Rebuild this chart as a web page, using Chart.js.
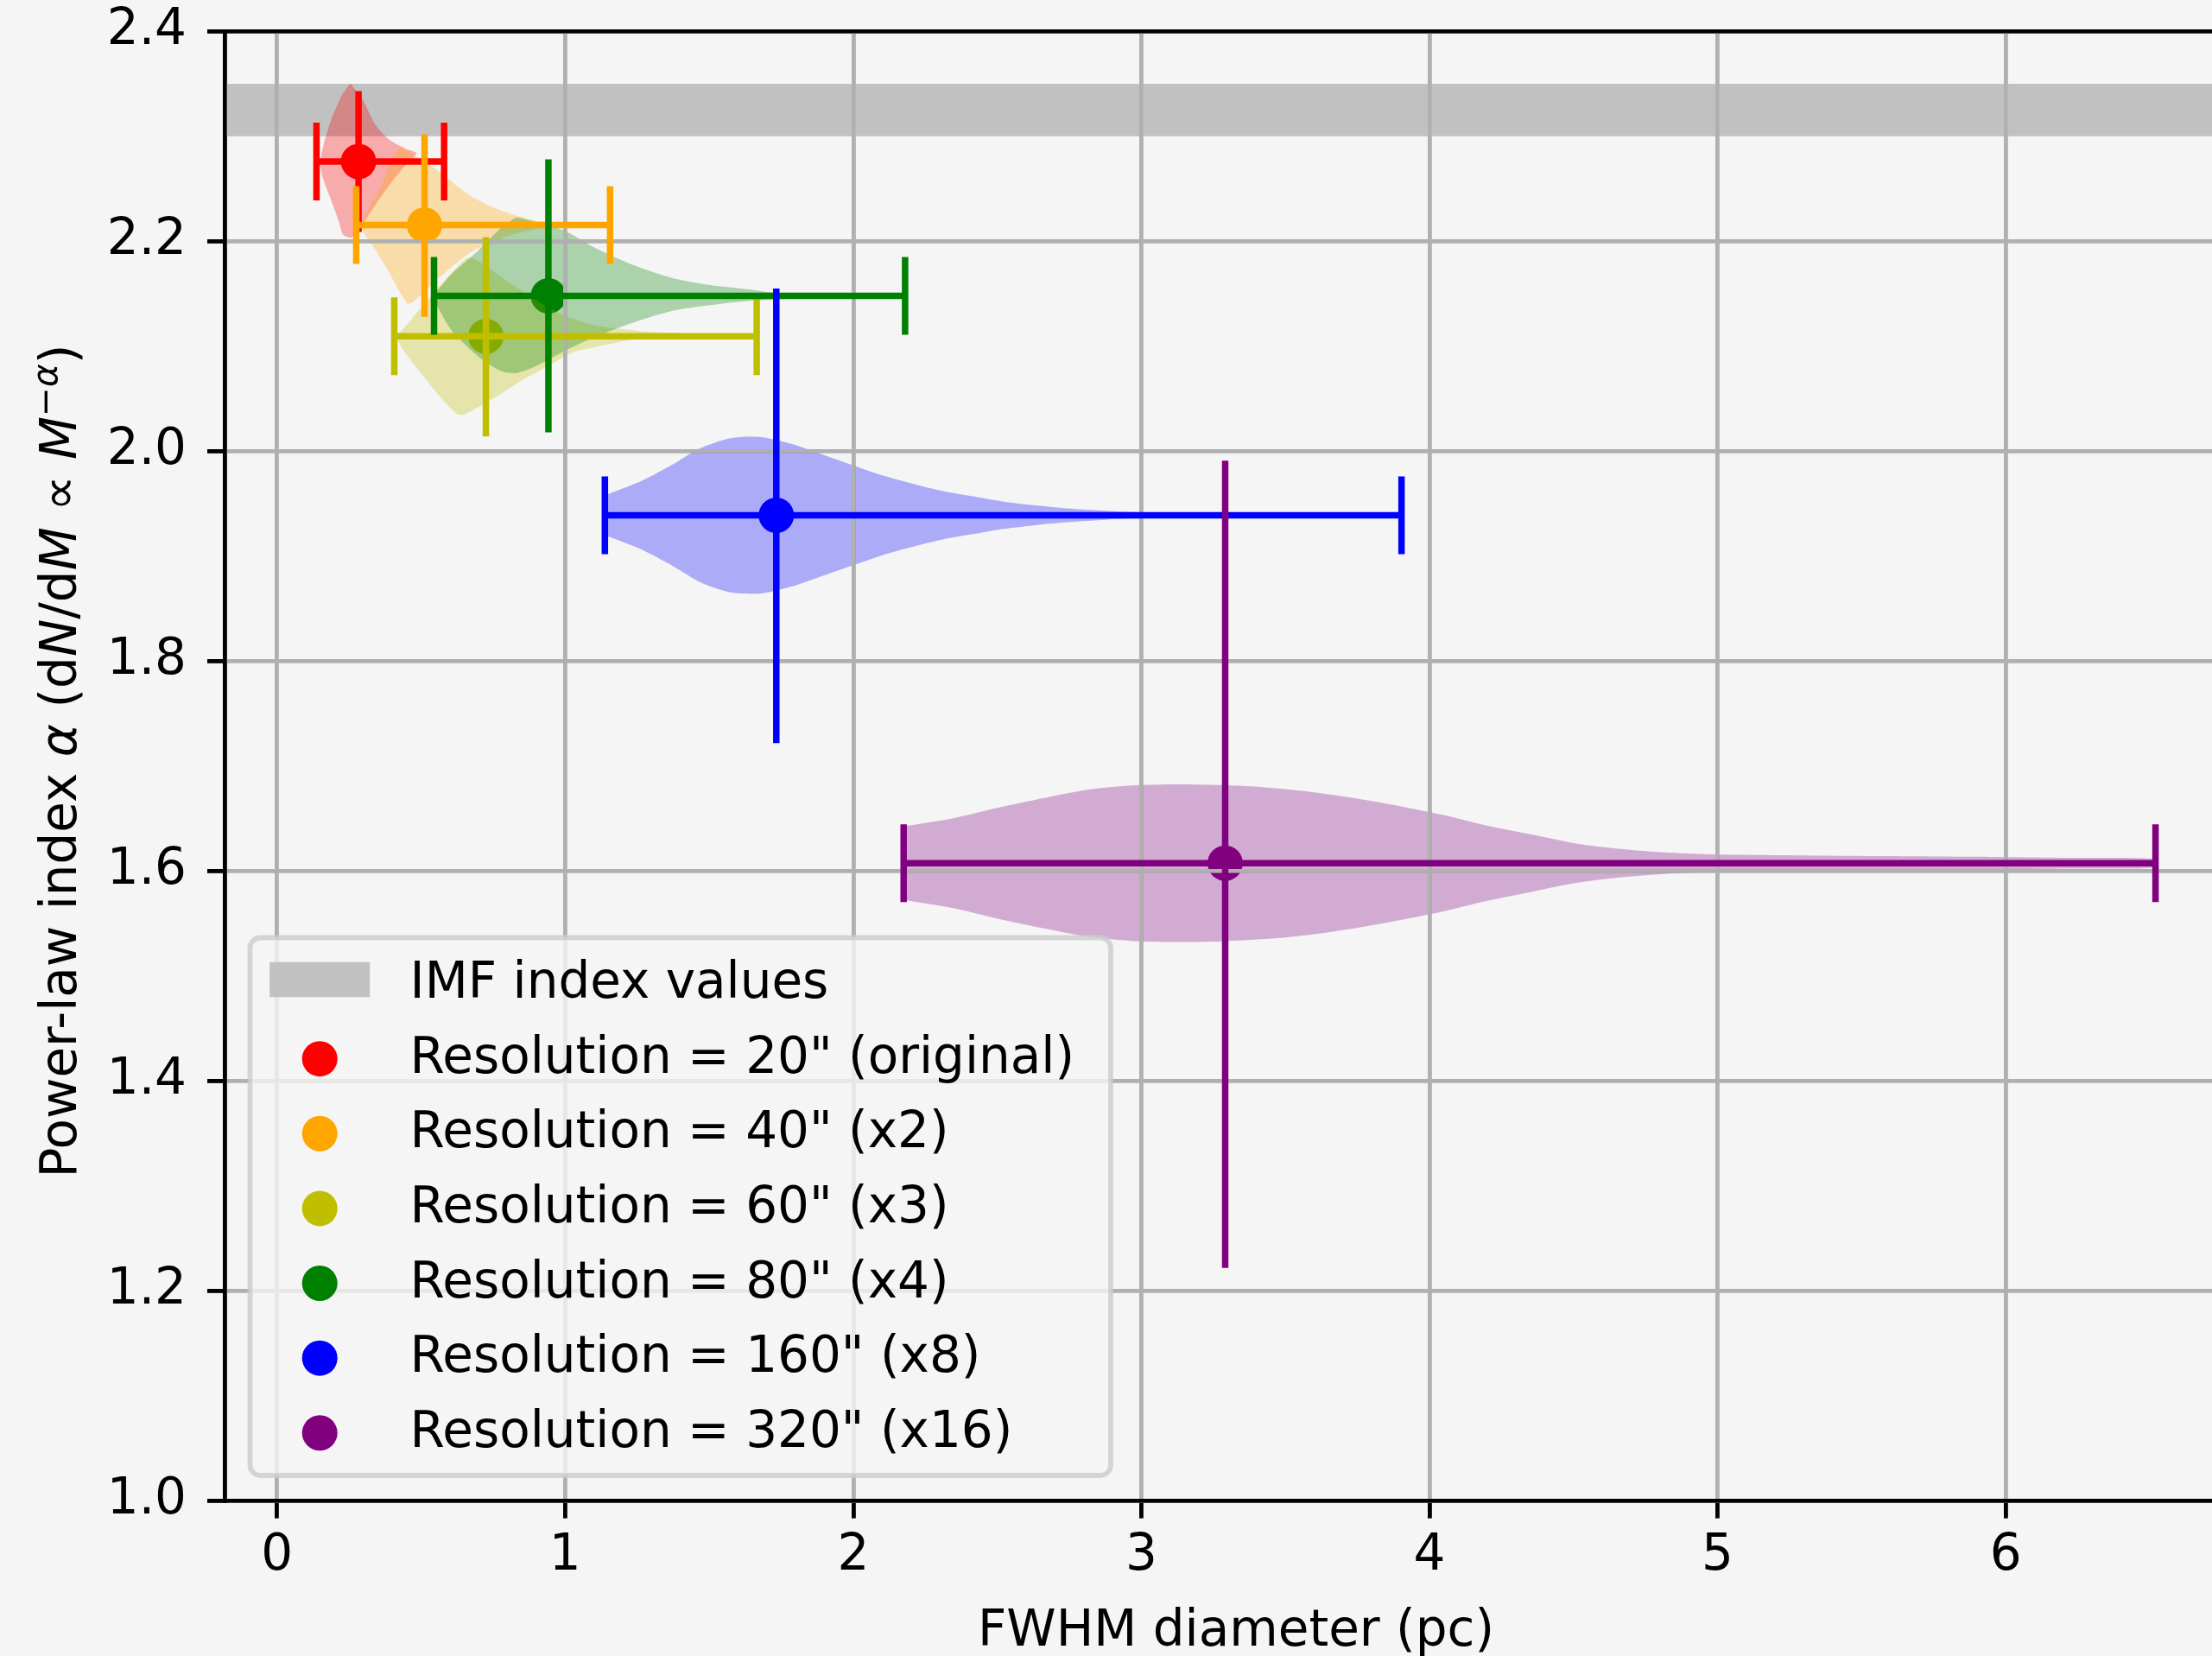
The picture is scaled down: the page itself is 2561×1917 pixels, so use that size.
<!DOCTYPE html>
<html>
<head>
<meta charset="utf-8">
<script src="https://cdn.jsdelivr.net/npm/chart.js@4.4.1/dist/chart.umd.min.js"></script>
<style>
html, body { margin: 0; padding: 0; background: #f5f5f5; overflow: hidden; width: 2561px; height: 1917px; }
canvas { display: block; }
</style>
</head>
<body>
<canvas id="c" width="2602" height="1917"></canvas>
<script>
// ---------------- data ----------------
const seriesLabels = [
  'Resolution = 20" (original)',
  'Resolution = 40" (x2)',
  'Resolution = 60" (x3)',
  'Resolution = 80" (x4)',
  'Resolution = 160" (x8)',
  'Resolution = 320" (x16)'
];
const imfLabel = 'IMF index values';
const imfBand = [2.30, 2.35];

// centre points (FWHM diameter, power-law index)
const centerX = [0.283, 0.512, 0.725, 0.942, 1.733, 3.291];
const centerY = [2.276, 2.2155, 2.1095, 2.148, 1.939, 1.6075];
// error bars
const xErrLow  = [0.137, 0.275, 0.407, 0.545, 1.138, 2.175];
const xErrHigh = [0.580, 1.156, 1.665, 2.180, 3.903, 6.520];
const yErrLow  = [2.209, 2.128, 2.014, 2.018, 1.722, 1.222];
const yErrHigh = [2.343, 2.302, 2.204, 2.278, 2.155, 1.991];

// distribution outlines
const violinRedX = [0.2548, 0.2998, 0.3397, 0.3897, 0.4496, 0.4846, 0.4496, 0.3997, 0.3497, 0.3098, 0.2848, 0.2598, 0.2298, 0.2148, 0.1899, 0.1599, 0.1499, 0.1649, 0.1899, 0.2248];
const violinRedY = [2.3504, 2.3339, 2.3119, 2.2969, 2.2878, 2.2840, 2.2735, 2.2571, 2.2379, 2.2214, 2.2104, 2.2036, 2.2063, 2.2187, 2.2379, 2.2598, 2.2735, 2.2955, 2.3174, 2.3394];

const violinOrangeX = [0.4297, 0.5096, 0.5696, 0.6295, 0.6895, 0.7494, 0.8194, 0.8893, 0.9600, 0.9000, 0.8000, 0.6744, 0.5674, 0.4800, 0.4550, 0.4297, 0.3797, 0.3297, 0.2918, 0.3597, 0.4000];
const violinOrangeY = [2.2900, 2.2763, 2.2653, 2.2516, 2.2406, 2.2324, 2.2255, 2.2200, 2.2170, 2.2120, 2.2050, 2.1899, 2.1665, 2.1440, 2.1405, 2.1501, 2.1748, 2.1967, 2.2146, 2.2516, 2.2800];

const violinYellowX = [0.4135, 0.4737, 0.5674, 0.6610, 0.7000, 0.8000, 0.9000, 1.0000, 1.1000, 1.2500, 1.4000, 1.6513, 1.4000, 1.2365, 1.1000, 1.0227, 0.9421, 0.8350, 0.7413, 0.6477, 0.6209, 0.5674, 0.4871, 0.4336];
const violinYellowY = [2.1089, 2.1281, 2.1583, 2.1844, 2.1810, 2.1620, 2.1440, 2.1290, 2.1200, 2.1150, 2.1125, 2.1103, 2.1085, 2.1062, 2.0990, 2.0938, 2.0815, 2.0650, 2.0486, 2.0349, 2.0362, 2.0513, 2.0787, 2.0979];

const violinGreenX = [0.5473, 0.6076, 0.6878, 0.7681, 0.8216, 0.8350, 0.9956, 1.1026, 1.2365, 1.3703, 1.5041, 1.6379, 1.7450, 1.9500, 1.6379, 1.5041, 1.3703, 1.2365, 1.1026, 0.9956, 0.9019, 0.8350, 0.7815, 0.7012, 0.6076, 0.5540];
const violinGreenY = [2.1501, 2.1693, 2.1885, 2.2104, 2.2214, 2.2228, 2.2104, 2.1940, 2.1775, 2.1652, 2.1583, 2.1542, 2.1505, 2.1485, 2.1432, 2.1391, 2.1336, 2.1226, 2.1089, 2.0952, 2.0815, 2.0746, 2.0760, 2.0897, 2.1144, 2.1391];

const violinBlueX    = [1.138, 1.260, 1.365, 1.470, 1.575, 1.680, 1.786, 1.891, 1.996, 2.101, 2.206, 2.311, 2.416, 2.521, 2.626, 2.731, 2.837, 2.942, 3.200, 3.500, 3.903];
const violinBlueHalf = [0.019, 0.032, 0.047, 0.064, 0.0735, 0.0745, 0.068, 0.058, 0.048, 0.038, 0.030, 0.023, 0.018, 0.013, 0.0096, 0.0068, 0.0049, 0.0033, 0.0022, 0.0015, 0.0010];

const violinPurpleX    = [2.175, 2.351, 2.505, 2.659, 2.813, 2.967, 3.121, 3.275, 3.429, 3.583, 3.738, 3.892, 4.046, 4.200, 4.354, 4.508, 4.662, 4.816, 4.970, 5.279, 5.587, 5.895, 6.203, 6.520];
const violinPurpleHalf = [0.035, 0.043, 0.053, 0.062, 0.070, 0.074, 0.0751, 0.0744, 0.0723, 0.0682, 0.0621, 0.0546, 0.0461, 0.0358, 0.0273, 0.0188, 0.0136, 0.0102, 0.0085, 0.0075, 0.0068, 0.0061, 0.0051, 0.0040];

// axes
const xLimits = [-0.182, 6.839];
const yLimits = [1.0, 2.4];
const xTickValues = [0, 1, 2, 3, 4, 5, 6];
const xTickLabels = ['0', '1', '2', '3', '4', '5', '6'];
const yTickValues = [1.0, 1.2, 1.4, 1.6, 1.8, 2.0, 2.2, 2.4];
const yTickLabels = ['1.0', '1.2', '1.4', '1.6', '1.8', '2.0', '2.2', '2.4'];
const xTitle = 'FWHM diameter (pc)';
const yTitleParts = [
  { t: 'Power-law index ' },
  { t: 'α', it: true },
  { t: ' (d' },
  { t: 'N', it: true },
  { t: '/d' },
  { t: 'M', it: true },
  { t: ' ∝ ' },
  { t: 'M', it: true },
  { t: '−α', it: true, sup: true },
  { t: ')' }
];

// ---------------- styles ----------------
const seriesColors = [[255, 0, 0], [255, 165, 0], [191, 191, 0], [0, 128, 0], [0, 0, 255], [128, 0, 128]];
const bandColor = 'rgb(193,193,193)';
const FONT = '"DejaVu Sans"';
const FS = 58;
const rgba = (c, a) => `rgba(${c[0]},${c[1]},${c[2]},${a})`;

function outlineFromPolygon(xs, ys) { return xs.map((x, i) => ({ x: x, y: ys[i] })); }
function outlineFromProfile(xs, half, y0) {
  const up = xs.map((x, i) => ({ x: x, y: y0 + half[i] }));
  const lo = xs.map((x, i) => ({ x: x, y: y0 - half[i] })).reverse();
  return up.concat(lo);
}
const violinOutlines = [
  outlineFromPolygon(violinRedX, violinRedY),
  outlineFromPolygon(violinOrangeX, violinOrangeY),
  outlineFromPolygon(violinYellowX, violinYellowY),
  outlineFromPolygon(violinGreenX, violinGreenY),
  outlineFromProfile(violinBlueX, violinBlueHalf, centerY[4]),
  outlineFromProfile(violinPurpleX, violinPurpleHalf, centerY[5])
];

const datasets = [];
// IMF band
datasets.push({
  data: [
    { x: xLimits[0] - 1, y: imfBand[0] }, { x: xLimits[1] + 1, y: imfBand[0] },
    { x: xLimits[1] + 1, y: imfBand[1] }, { x: xLimits[0] - 1, y: imfBand[1] }
  ],
  showLine: true, fill: 'shape', backgroundColor: bandColor, borderColor: 'transparent',
  borderWidth: 0, pointRadius: 0, order: 100
});
seriesColors.forEach((c, k) => {
  // centre markers (below the distributions)
  datasets.push({
    data: [{ x: centerX[k], y: centerY[k] }], showLine: false,
    pointRadius: 20.5, pointBorderWidth: 0, pointBackgroundColor: rgba(c, 1),
    pointBorderColor: rgba(c, 1), order: 90
  });
  // distributions
  datasets.push({
    data: violinOutlines[k], showLine: true, fill: 'shape', tension: 0.25,
    backgroundColor: rgba(c, 0.3), borderColor: 'transparent', borderWidth: 0,
    pointRadius: 0, order: 80 - k, gridAfter: k === seriesColors.length - 1
  });
  // error bars
  datasets.push({
    data: [{ x: xErrLow[k], y: centerY[k] }, { x: xErrHigh[k], y: centerY[k] }],
    showLine: true, borderColor: rgba(c, 1), borderWidth: 7.5, pointRadius: 0, order: 60 - k
  });
  datasets.push({
    data: [{ x: centerX[k], y: yErrLow[k] }, { x: centerX[k], y: yErrHigh[k] }],
    showLine: true, borderColor: rgba(c, 1), borderWidth: 7.5, pointRadius: 0, order: 60 - k
  });
  datasets.push({
    data: [{ x: xErrLow[k], y: centerY[k] }, { x: xErrHigh[k], y: centerY[k] }],
    showLine: false, pointStyle: 'line', pointRotation: 90, pointRadius: 45,
    pointBorderWidth: 7.5, pointBorderColor: rgba(c, 1), pointBackgroundColor: rgba(c, 1),
    order: 60 - k
  });
});

// grid drawn again above the distributions (as in the original)
const gridOverPlugin = {
  id: 'gridOver',
  afterDatasetDraw(chart, args) {
    const ds = chart.data.datasets[args.index];
    if (!ds || !ds.gridAfter) return;
    const area = chart.chartArea;
    ['x', 'y'].forEach(id => { const s = chart.scales[id]; if (s && s.drawGrid) s.drawGrid(area); });
    ['x', 'y', 'xTop'].forEach(id => { const s = chart.scales[id]; if (s && s.drawBorder) s.drawBorder(); });
  }
};

const textPlugin = {
  id: 'texts',
  afterDraw(chart) {
    const ctx = chart.ctx;
    const area = chart.chartArea;
    ctx.save();
    ctx.fillStyle = '#000';
    // x title
    ctx.font = `${FS}px ${FONT}`;
    ctx.textAlign = 'center';
    ctx.textBaseline = 'alphabetic';
    ctx.fillText(xTitle, (area.left + area.right) / 2, 1905);
    // y title (mixed styles)
    const fontFor = p => `${p.it ? 'italic ' : ''}${p.sup ? FS * 0.7 : FS}px ${FONT}`;
    const widths = yTitleParts.map(p => { ctx.font = fontFor(p); return ctx.measureText(p.t).width; });
    const total = widths.reduce((a, b) => a + b, 0);
    ctx.save();
    ctx.translate(88, 881);
    ctx.rotate(-Math.PI / 2);
    ctx.textAlign = 'left';
    let xx = -total / 2;
    yTitleParts.forEach((p, i) => {
      ctx.font = fontFor(p);
      ctx.fillText(p.t, xx, p.sup ? -22 : 0);
      xx += widths[i];
    });
    ctx.restore();

    // legend
    const L = 289.5, T = 1085.5, R = 1286, B = 1708;
    ctx.beginPath();
    if (ctx.roundRect) ctx.roundRect(L, T, R - L, B - T, 12); else ctx.rect(L, T, R - L, B - T);
    ctx.fillStyle = 'rgba(245,245,245,0.8)';
    ctx.fill();
    ctx.lineWidth = 5.8;
    ctx.strokeStyle = 'rgba(204,204,204,0.8)';
    ctx.stroke();
    const base0 = 1155, step = 86.63, hx = 312.2, hw = 116, tx = 474.6;
    ctx.fillStyle = bandColor;
    ctx.fillRect(hx, base0 - 21 - 20.3, hw, 40.6);
    ctx.font = `${FS}px ${FONT}`;
    ctx.textAlign = 'left';
    ctx.textBaseline = 'alphabetic';
    ctx.fillStyle = '#000';
    ctx.fillText(imfLabel, tx, base0);
    seriesLabels.forEach((lab, k) => {
      const b = base0 + (k + 1) * step;
      ctx.beginPath();
      ctx.arc(hx + hw / 2, b - 16, 20.5, 0, Math.PI * 2);
      ctx.fillStyle = rgba(seriesColors[k], 1);
      ctx.fill();
      ctx.fillStyle = '#000';
      ctx.fillText(lab, tx, b);
    });
    ctx.restore();
  }
};

Chart.defaults.font.family = FONT;
Chart.defaults.font.size = FS;
Chart.defaults.color = '#000';

new Chart(document.getElementById('c'), {
  type: 'scatter',
  data: { datasets: datasets },
  options: {
    responsive: false,
    animation: false,
    events: [],
    layout: { autoPadding: false, padding: { top: 36.35, left: 0, right: 0, bottom: 0 } },
    plugins: { legend: { display: false }, tooltip: { enabled: false } },
    scales: {
      x: {
        type: 'linear', position: 'bottom', min: xLimits[0], max: xLimits[1],
        afterBuildTicks: s => { s.ticks = xTickValues.map(v => ({ value: v })); },
        afterFit: s => { s.height = 1917 - 1737.4; s.paddingLeft = 0; s.paddingRight = 0; },
        ticks: { padding: 10, color: '#000', font: { size: FS, family: FONT }, maxRotation: 0,
                 callback: (v, i) => xTickLabels[i] },
        grid: { color: '#b0b0b0', lineWidth: 4.6, tickColor: '#000', tickWidth: 4.6, tickLength: 20 },
        border: { display: true, color: '#000', width: 4.6 }
      },
      xTop: {
        type: 'linear', position: 'top', min: xLimits[0], max: xLimits[1],
        afterFit: s => { s.height = 0; s.paddingLeft = 0; s.paddingRight = 0; },
        ticks: { display: false },
        grid: { display: false },
        border: { display: true, color: '#000', width: 4.6 }
      },
      y: {
        type: 'linear', position: 'left', min: yLimits[0], max: yLimits[1],
        afterBuildTicks: s => { s.ticks = yTickValues.map(v => ({ value: v })); },
        afterFit: s => { s.width = 260; s.paddingTop = 0; s.paddingBottom = 0; },
        ticks: { padding: 24, color: '#000', font: { size: FS, family: FONT },
                 callback: (v, i) => yTickLabels[i] },
        grid: { color: '#b0b0b0', lineWidth: 4.6, tickColor: '#000', tickWidth: 4.6, tickLength: 20 },
        border: { display: true, color: '#000', width: 4.6 }
      }
    }
  },
  plugins: [gridOverPlugin, textPlugin]
});
</script>
</body>
</html>
